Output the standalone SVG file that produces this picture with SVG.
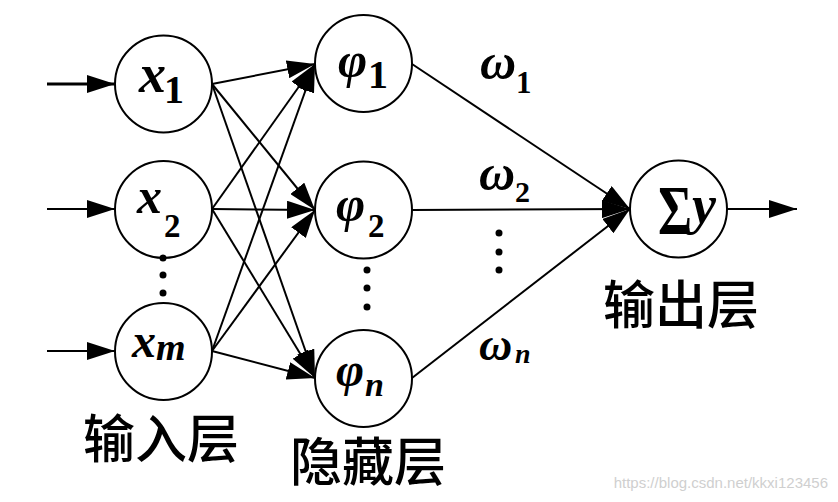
<svg xmlns="http://www.w3.org/2000/svg" width="838" height="502" viewBox="0 0 838 502">
<style>
.node{fill:#fff;stroke:#000;stroke-width:2}
.edge{stroke:#000;stroke-width:2;fill:none}
.m{font-family:"Liberation Serif","Times New Roman",serif;font-style:italic;font-weight:bold;fill:#000}
.d{font-family:"Liberation Serif","Times New Roman",serif;font-style:normal;font-weight:bold;fill:#000}
.cn{font-family:"Noto Sans CJK SC","Noto Sans CJK JP",sans-serif;font-size:52px;font-weight:500;fill:#000;text-anchor:middle}
.dot{fill:#000}
.wm{font-family:"Liberation Sans",Arial,sans-serif;font-size:15px;fill:#cfcfcf;text-anchor:end}
</style>
<defs>
<marker id="ah" viewBox="0 0 28 18" refX="28" refY="9" markerWidth="28" markerHeight="18" markerUnits="userSpaceOnUse" orient="auto">
<path d="M0,0 L28,9 L0,18 z" fill="#000"/>
</marker>
</defs>
<rect width="838" height="502" fill="#fff"/>
<g id="connectors">
<line class="edge" x1="47" y1="84" x2="115" y2="84" marker-end="url(#ah)" style="stroke-width:3"/>
<line class="edge" x1="47" y1="209" x2="115" y2="209" marker-end="url(#ah)"/>
<line class="edge" x1="47" y1="351" x2="115" y2="351" marker-end="url(#ah)"/>
<line class="edge" x1="212" y1="84" x2="315" y2="64" marker-end="url(#ah)"/>
<line class="edge" x1="212" y1="84" x2="315" y2="210" marker-end="url(#ah)"/>
<line class="edge" x1="212" y1="84" x2="315" y2="378" marker-end="url(#ah)"/>
<line class="edge" x1="212" y1="209" x2="315" y2="64" marker-end="url(#ah)"/>
<line class="edge" x1="212" y1="209" x2="315" y2="210" marker-end="url(#ah)"/>
<line class="edge" x1="212" y1="209" x2="315" y2="378" marker-end="url(#ah)"/>
<line class="edge" x1="212" y1="351" x2="315" y2="64" marker-end="url(#ah)"/>
<line class="edge" x1="212" y1="351" x2="315" y2="210" marker-end="url(#ah)"/>
<line class="edge" x1="212" y1="351" x2="315" y2="378" marker-end="url(#ah)"/>
<line class="edge" x1="412" y1="64" x2="630" y2="209" marker-end="url(#ah)"/>
<line class="edge" x1="412" y1="210" x2="630" y2="209" marker-end="url(#ah)"/>
<line class="edge" x1="412" y1="378" x2="630" y2="209" marker-end="url(#ah)"/>
<line class="edge" x1="727" y1="209" x2="797" y2="209" marker-end="url(#ah)"/>
</g>
<g id="x1">
<circle class="node" cx="163.5" cy="84" r="48.5"/>
<text class="m" x="139" y="92" font-size="54">x</text>
<text class="d" x="164" y="103" font-size="40">1</text>
</g>
<g id="x2">
<circle class="node" cx="163.5" cy="209.5" r="48.5"/>
<text class="m" x="137" y="213" font-size="50">x</text>
<text class="d" x="164" y="237" font-size="33">2</text>
</g>
<g id="xm">
<circle class="node" cx="163.5" cy="351.5" r="48.5"/>
<text class="m" x="132" y="357" font-size="48">x</text>
<text class="m" x="156" y="360" font-size="38">m</text>
</g>
<g id="phi1">
<circle class="node" cx="363.5" cy="63.5" r="48.5"/>
<text class="m" x="338" y="77" font-size="50">φ</text>
<text class="d" x="368" y="88" font-size="40">1</text>
</g>
<g id="phi2">
<circle class="node" cx="363.5" cy="210" r="48.5"/>
<text class="m" x="336" y="221" font-size="50">φ</text>
<text class="d" x="368" y="237" font-size="33">2</text>
</g>
<g id="phin">
<circle class="node" cx="363.5" cy="378.5" r="48.5"/>
<text class="m" x="336" y="386" font-size="48">φ</text>
<text class="m" x="365" y="396" font-size="34">n</text>
</g>
<g id="output">
<circle class="node" cx="678.5" cy="209" r="48.5"/>
<text class="d" transform="translate(658,234) scale(1,1.35)" font-size="52">Σ</text>
<text class="m" x="692" y="223" font-size="54">y</text>
</g>
<g id="weights">
<text class="m" x="480" y="79" font-size="50">ω</text>
<text class="d" x="516" y="93" font-size="31">1</text>
<text class="m" x="479" y="190" font-size="50">ω</text>
<text class="d" x="515" y="202" font-size="30">2</text>
<text class="m" x="479" y="360" font-size="46">ω</text>
<text class="m" x="515" y="363" font-size="28">n</text>
</g>
<g id="dots">
<circle class="dot" cx="163" cy="258" r="3.5"/>
<circle class="dot" cx="163" cy="275" r="3.5"/>
<circle class="dot" cx="163" cy="293" r="3.5"/>
<circle class="dot" cx="367" cy="270" r="3.5"/>
<circle class="dot" cx="367" cy="288" r="3.5"/>
<circle class="dot" cx="367" cy="307" r="3.5"/>
<circle class="dot" cx="499" cy="233" r="3.5"/>
<circle class="dot" cx="499" cy="252" r="3.5"/>
<circle class="dot" cx="499" cy="270" r="3.5"/>
</g>
<g id="labels">
<text class="cn" x="161" y="458">输入层</text>
<text class="cn" x="368" y="481">隐藏层</text>
<text class="cn" x="681" y="324">输出层</text>
</g>
<text class="wm" x="828" y="488">https://blog.csdn.net/kkxi123456</text>
</svg>
